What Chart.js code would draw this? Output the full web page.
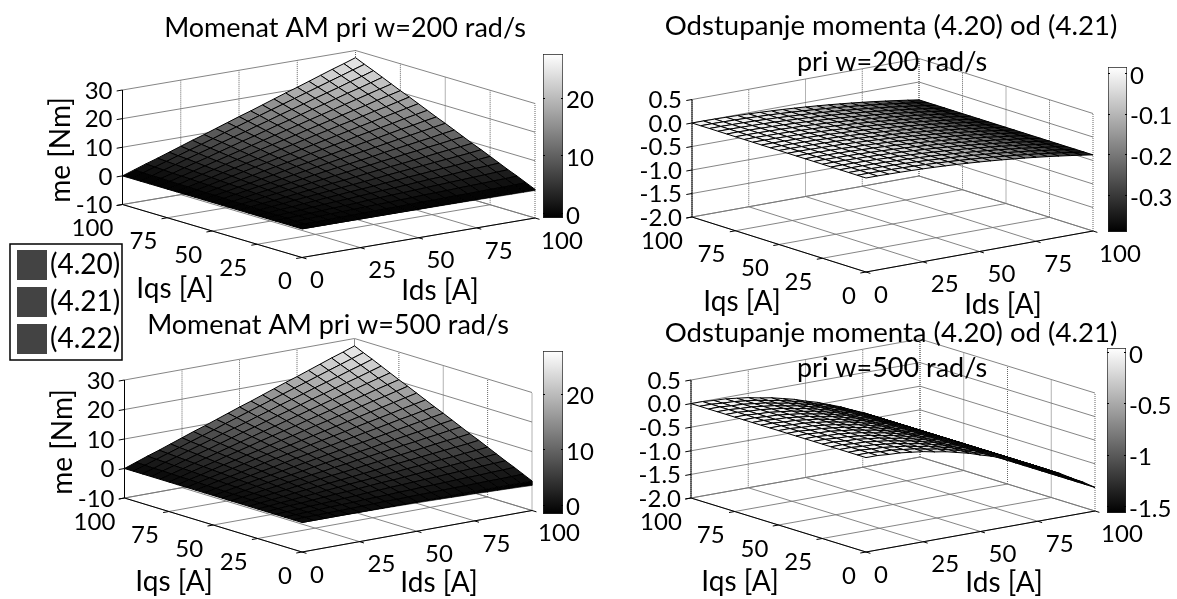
<!DOCTYPE html>
<html>
<head>
<meta charset="utf-8">
<script src="https://cdn.jsdelivr.net/npm/chart.js@4"></script>
<style>
  body { margin: 0; background: #fff; }
  #wrap { position: relative; width: 1177px; height: 599px; overflow: hidden; }
  canvas { position: absolute; }
</style>
</head>
<body>
<div id="wrap"><canvas id="main" width="1177" height="599" style="left:0;top:0"></canvas></div>
<script>
// mesh and tick values
const meshAxis = [0, 5, 10, 15, 20, 25, 30, 35, 40, 45, 50, 55, 60, 65, 70, 75, 80, 85, 90, 95, 100];
const currentTicks = [0, 25, 50, 75, 100];
const meTicks = [-10, 0, 10, 20, 30];
const devTicks = [-2, -1.5, -1, -0.5, 0, 0.5];
const devTickLabels = ['-2.0', '-1.5', '-1.0', '-0.5', '0.0', '0.5'];
const legendLabels = ['(4.20)', '(4.21)', '(4.22)'];

// torque, rows are Iqs, columns are Ids (both speeds read the same on top)
const meGrid = [
  [0,0,0,0,0,0,0,0,0,0,0,0,0,0,0,0,0,0,0,0,0],
  [0,.1,.1,.2,.3,.3,.4,.5,.6,.6,.7,.8,.8,.9,1,1,1.1,1.2,1.2,1.3,1.4],
  [0,.1,.3,.4,.6,.7,.8,1,1.1,1.2,1.4,1.5,1.7,1.8,1.9,2.1,2.2,2.3,2.5,2.6,2.8],
  [0,.2,.4,.6,.8,1,1.2,1.4,1.7,1.9,2.1,2.3,2.5,2.7,2.9,3.1,3.3,3.5,3.7,3.9,4.1],
  [0,.3,.6,.8,1.1,1.4,1.7,1.9,2.2,2.5,2.8,3,3.3,3.6,3.9,4.1,4.4,4.7,5,5.2,5.5],
  [0,.3,.7,1,1.4,1.7,2.1,2.4,2.8,3.1,3.4,3.8,4.1,4.5,4.8,5.2,5.5,5.8,6.2,6.5,6.9],
  [0,.4,.8,1.2,1.7,2.1,2.5,2.9,3.3,3.7,4.1,4.5,5,5.4,5.8,6.2,6.6,7,7.4,7.8,8.3],
  [0,.5,1,1.4,1.9,2.4,2.9,3.4,3.9,4.3,4.8,5.3,5.8,6.3,6.7,7.2,7.7,8.2,8.7,9.1,9.6],
  [0,.6,1.1,1.7,2.2,2.8,3.3,3.9,4.4,5,5.5,6.1,6.6,7.2,7.7,8.3,8.8,9.4,9.9,10.5,11],
  [0,.6,1.2,1.9,2.5,3.1,3.7,4.3,5,5.6,6.2,6.8,7.4,8,8.7,9.3,9.9,10.5,11.1,11.8,12.4],
  [0,.7,1.4,2.1,2.8,3.4,4.1,4.8,5.5,6.2,6.9,7.6,8.3,8.9,9.6,10.3,11,11.7,12.4,13.1,13.8],
  [0,.8,1.5,2.3,3,3.8,4.5,5.3,6.1,6.8,7.6,8.3,9.1,9.8,10.6,11.3,12.1,12.9,13.6,14.4,15.1],
  [0,.8,1.7,2.5,3.3,4.1,5,5.8,6.6,7.4,8.3,9.1,9.9,10.7,11.6,12.4,13.2,14,14.9,15.7,16.5],
  [0,.9,1.8,2.7,3.6,4.5,5.4,6.3,7.2,8,8.9,9.8,10.7,11.6,12.5,13.4,14.3,15.2,16.1,17,17.9],
  [0,1,1.9,2.9,3.9,4.8,5.8,6.7,7.7,8.7,9.6,10.6,11.6,12.5,13.5,14.4,15.4,16.4,17.3,18.3,19.3],
  [0,1,2.1,3.1,4.1,5.2,6.2,7.2,8.3,9.3,10.3,11.3,12.4,13.4,14.4,15.5,16.5,17.5,18.6,19.6,20.6],
  [0,1.1,2.2,3.3,4.4,5.5,6.6,7.7,8.8,9.9,11,12.1,13.2,14.3,15.4,16.5,17.6,18.7,19.8,20.9,22],
  [0,1.2,2.3,3.5,4.7,5.8,7,8.2,9.4,10.5,11.7,12.9,14,15.2,16.4,17.5,18.7,19.9,21,22.2,23.4],
  [0,1.2,2.5,3.7,5,6.2,7.4,8.7,9.9,11.1,12.4,13.6,14.9,16.1,17.3,18.6,19.8,21,22.3,23.5,24.8],
  [0,1.3,2.6,3.9,5.2,6.5,7.8,9.1,10.5,11.8,13.1,14.4,15.7,17,18.3,19.6,20.9,22.2,23.5,24.8,26.1],
  [0,1.4,2.8,4.1,5.5,6.9,8.3,9.6,11,12.4,13.8,15.1,16.5,17.9,19.3,20.6,22,23.4,24.8,26.1,27.5]
];

// deviation read along Ids, no visible change along Iqs
const dev200 = [0,0,-.004,-.009,-.015,-.024,-.034,-.047,-.061,-.077,-.095,-.115,-.137,-.161,-.186,-.214,-.243,-.275,-.308,-.343,-.38];
const dev500 = [0,0,-.02,-.03,-.06,-.09,-.14,-.18,-.24,-.3,-.38,-.45,-.54,-.63,-.74,-.84,-.96,-1.08,-1.22,-1.35,-1.5];

const meLimits200 = [-0.9, 27.6];
const meLimits500 = [-1.7, 27.7];
const devLimits200 = [-0.39, 0.0145];
const devLimits500 = [-1.568, 0.039];
const meBarTicks = [0, 10, 20];
const dev200BarTicks = [-0.3, -0.2, -0.1, 0];
const dev500BarTicks = [-1.5, -1, -0.5, 0];

const FONT = 'Lato';
const TITLE_SIZE = 27;
const LONG_TITLE_SIZE = 27.6;
const NAME_SIZE = 28;
const TICK_SIZE = 24;

// panel layouts
const panels = [
  { front: [302, 257.5], left: [122.5, 204.5], right: [535, 218], zSpan: 114.5,
    zTicks: meTicks, zLabels: meTicks.map(String), z: (i, j) => meGrid[j][i], edge: dev200, limits: meLimits200,
    lineWidth: 1, zName: ['me [Nm]', 61, 150],
    title: [['Momenat AM pri w=200 rad/s', 345, 28, TITLE_SIZE]], iqsName: [175, 289], idsName: [440, 291],
    bar: { x: 543, top: 54, w: 20, h: 164, ticks: meBarTicks } },
  { front: [866, 272], left: [692, 217], right: [1093, 231], zSpan: 117.5,
    zTicks: devTicks, zLabels: devTickLabels, z: (i, j) => dev200[i], limits: devLimits200,
    lineWidth: 1,
    title: [['Odstupanje momenta (4.20) od (4.21)', 891, 26, LONG_TITLE_SIZE], ['pri w=200 rad/s', 892, 62, TITLE_SIZE]], iqsName: [742, 302], idsName: [1003, 305],
    bar: { x: 1108, top: 67, w: 19, h: 165, ticks: dev200BarTicks } },
  { front: [302, 552], left: [124.5, 498], right: [532, 510.5], zSpan: 118,
    zTicks: meTicks, zLabels: meTicks.map(String), z: (i, j) => meGrid[j][i], edge: dev500, limits: meLimits500,
    lineWidth: 1, zName: ['me [Nm]', 63, 442],
    title: [['Momenat AM pri w=500 rad/s', 328, 325, TITLE_SIZE]], iqsName: [174, 582], idsName: [439, 583],
    bar: { x: 543, top: 351, w: 20, h: 163, ticks: meBarTicks } },
  { front: [866, 552], left: [691, 498], right: [1095, 511], zSpan: 118,
    zTicks: devTicks, zLabels: devTickLabels, z: (i, j) => dev500[i], limits: devLimits500,
    lineWidth: 1,
    title: [['Odstupanje momenta (4.20) od (4.21)', 891, 333, LONG_TITLE_SIZE], ['pri w=500 rad/s', 892, 368, TITLE_SIZE]], iqsName: [740, 582], idsName: [1004, 583],
    bar: { x: 1107, top: 348, w: 19, h: 165, ticks: dev500BarTicks } }
];

function project(p, ids, iqs, z) {
  const zs = p.zTicks;
  const zMin = zs[0], zMax = zs[zs.length - 1];
  const a = ids / 100, b = iqs / 100;
  return {
    x: p.front[0] + a * (p.right[0] - p.front[0]) + b * (p.left[0] - p.front[0]),
    y: p.front[1] + a * (p.right[1] - p.front[1]) + b * (p.left[1] - p.front[1]) - (z - zMin) / (zMax - zMin) * p.zSpan
  };
}

function lineSet(points, color, width, dash) {
  return { data: points, showLine: true, pointRadius: 0, borderColor: color, borderWidth: width,
    borderDash: dash || [], fill: false, tension: 0 };
}

function grayOf(z, limits) {
  let v = (z - limits[0]) / (limits[1] - limits[0]);
  v = Math.max(0, Math.min(1, v));
  const g = Math.round(Math.floor(v * 63) / 63 * 255);
  return 'rgb(' + g + ',' + g + ',' + g + ')';
}

function panelSets(p) {
  const out = [];
  const zMin = p.zTicks[0], zMax = p.zTicks[p.zTicks.length - 1];
  const wallLine = (a, b) => out.push(lineSet([a, b], '#777', 0.9));
  const upLine = (a, b) => out.push(lineSet([a, b], '#666', 1, [1, 1]));
  p.zTicks.forEach(z => {
    wallLine(project(p, 0, 100, z), project(p, 100, 100, z));
    wallLine(project(p, 100, 100, z), project(p, 100, 0, z));
  });
  currentTicks.forEach(d => {
    upLine(project(p, d, 100, zMin), project(p, d, 100, zMax));
    wallLine(project(p, d, 0, zMin), project(p, d, 100, zMin));
    upLine(project(p, 100, d, zMin), project(p, 100, d, zMax));
    wallLine(project(p, 0, d, zMin), project(p, 100, d, zMin));
  });
  // black axes with their tick marks
  const axisLine = (a, b) => out.push(lineSet([a, b], '#000', 1));
  axisLine(project(p, 0, 100, zMin), project(p, 0, 100, zMax));
  axisLine(project(p, 0, 100, zMin), project(p, 0, 0, zMin));
  axisLine(project(p, 0, 0, zMin), project(p, 100, 0, zMin));
  p.zTicks.forEach(z => axisLine(project(p, 0, 100, z), project(p, -2.5, 100, z)));
  currentTicks.forEach(d => {
    axisLine(project(p, d, 0, zMin), project(p, d, -2.5, zMin));
    axisLine(project(p, 0, d, zMin), project(p, -2.5, d, zMin));
  });
  const n = meshAxis.length - 1;
  // the lower surface only shows as a strip under the Iqs=0 edge
  if (p.edge) {
    for (let i = 0; i < n; i++) {
      const a = meshAxis[i], b = meshAxis[i + 1];
      const pts = [project(p, a, 0, 0), project(p, b, 0, 0), project(p, b, 0, p.edge[i + 1]), project(p, a, 0, p.edge[i]), project(p, a, 0, 0)];
      const set = lineSet(pts, '#000', 0.6);
      set.fill = 'shape';
      set.backgroundColor = grayOf(p.edge[i], p.limits);
      out.push(set);
    }
  }
  // facets, far corner first
  for (let s = 2 * n - 2; s >= 0; s--) {
    for (let j = 0; j < n; j++) {
      const i = s - j;
      if (i < 0 || i >= n) continue;
      const corners = [[i, j], [i + 1, j], [i + 1, j + 1], [i, j + 1], [i, j]];
      const pts = corners.map(c => project(p, meshAxis[c[0]], meshAxis[c[1]], p.z(c[0], c[1])));
      const set = lineSet(pts, '#000', p.lineWidth);
      set.fill = 'shape';
      set.backgroundColor = grayOf(p.z(i, j), p.limits);
      out.push(set);
    }
  }
  return out;
}

// text of the 3D axes, the titles and the legend box
const panelText = {
  id: 'panelText',
  afterDraw(chart) {
    const c = chart.ctx;
    const sx = v => chart.scales.x.getPixelForValue(v);
    const sy = v => chart.scales.y.getPixelForValue(v);
    const put = (text, x, y, size, align) => {
      c.font = size + 'px ' + FONT;
      c.textAlign = align || 'center';
      c.textBaseline = 'middle';
      c.fillStyle = '#000';
      c.fillText(text, sx(x), sy(y));
    };
    c.save();
    panels.forEach(p => {
      p.title.forEach(t => put(t[0], t[1], t[2], t[3]));
      const zMin = p.zTicks[0];
      p.zTicks.forEach((z, k) => {
        const q = project(p, 0, 100, z);
        put(p.zLabels[k], q.x - 10, q.y + 1, TICK_SIZE, 'right');
      });
      currentTicks.forEach(d => {
        const q = project(p, 0, d, zMin);
        const dx = d === 100 ? -30 : d === 0 ? -17 : -24;
        put(String(d), q.x + dx, q.y + 24, TICK_SIZE);
        const r = project(p, d, 0, zMin);
        const rx = d === 100 ? 27 : d === 0 ? 15 : 22;
        put(String(d), r.x + rx, r.y + 23, TICK_SIZE);
      });
      put('Iqs [A]', p.iqsName[0], p.iqsName[1], NAME_SIZE);
      put('Ids [A]', p.idsName[0], p.idsName[1], NAME_SIZE);
      if (p.zName) {
        c.save();
        c.translate(sx(p.zName[1]), sy(p.zName[2]));
        c.rotate(-Math.PI / 2);
        c.font = NAME_SIZE + 'px ' + FONT;
        c.textAlign = 'center';
        c.textBaseline = 'middle';
        c.fillStyle = '#000';
        c.fillText(p.zName[0], 0, 0);
        c.restore();
      }
    });
    // legend
    c.fillStyle = '#fff';
    c.strokeStyle = '#000';
    c.lineWidth = 1.5;
    c.fillRect(10, 244, 112, 116);
    c.strokeRect(10, 244, 112, 116);
    legendLabels.forEach((t, k) => {
      c.fillStyle = '#434343';
      c.fillRect(17, 250 + k * 37, 30, 30);
      put(t, 50, 265 + k * 37, NAME_SIZE, 'left');
    });
    c.restore();
  }
};

let allSets = [];
panels.forEach(p => { allSets = allSets.concat(panelSets(p)); });

new Chart(document.getElementById('main').getContext('2d'), {
  type: 'scatter',
  data: { datasets: allSets.reverse() },
  options: {
    responsive: false,
    animation: false,
    events: [],
    layout: { padding: 0 },
    plugins: { legend: { display: false }, tooltip: { enabled: false } },
    scales: {
      x: { type: 'linear', min: 0, max: 1177, display: false },
      y: { type: 'linear', min: 0, max: 599, reverse: true, display: false }
    }
  },
  plugins: [panelText]
});

// short ticks on the inner side of the colour bar edges
const barTicks = {
  id: 'barTicks',
  afterDatasetsDraw(chart) {
    const c = chart.ctx, a = chart.chartArea, y = chart.scales.y;
    c.save();
    c.strokeStyle = '#000';
    c.lineWidth = 1;
    y.ticks.forEach(t => {
      const py = Math.round(y.getPixelForValue(t.value)) + 0.5;
      c.beginPath();
      c.moveTo(a.left, py); c.lineTo(a.left + 2, py);
      c.moveTo(a.right - 2, py); c.lineTo(a.right, py);
      c.stroke();
    });
    c.restore();
  }
};

// colour bars are small bar charts with a real right axis
function addColorBar(p) {
  const b = p.bar;
  const pad = 16, axisW = 62;
  const cv = document.createElement('canvas');
  cv.width = b.w + axisW + 1;
  cv.height = b.h + pad * 2;
  cv.style.left = (b.x - 1) + 'px';
  cv.style.top = (b.top - pad) + 'px';
  document.getElementById('wrap').appendChild(cv);
  new Chart(cv.getContext('2d'), {
    type: 'bar',
    data: {
      labels: [''],
      datasets: [{
        data: [p.limits],
        barPercentage: 1,
        categoryPercentage: 1,
        borderColor: '#222',
        borderWidth: 1,
        borderSkipped: false,
        backgroundColor: ctx => {
          const a = ctx.chart.chartArea;
          if (!a) return '#000';
          const g = ctx.chart.ctx.createLinearGradient(0, a.bottom, 0, a.top);
          g.addColorStop(0, '#000');
          g.addColorStop(1, '#fff');
          return g;
        }
      }]
    },
    options: {
      responsive: false,
      animation: false,
      events: [],
      layout: { padding: { top: pad, bottom: pad, left: 1, right: 0 } },
      plugins: { legend: { display: false }, tooltip: { enabled: false } },
      scales: {
        x: { display: false },
        y: {
          position: 'right',
          min: p.limits[0],
          max: p.limits[1],
          afterBuildTicks: s => { s.ticks = b.ticks.map(v => ({ value: v })); },
          afterFit: s => { s.width = axisW; s.paddingTop = 0; s.paddingBottom = 0; },
          border: { display: false },
          grid: { drawOnChartArea: false, drawTicks: false },
          ticks: { color: '#000', padding: 3, labelOffset: 3, font: { family: FONT, size: TICK_SIZE }, callback: v => String(v) }
        }
      }
    },
    plugins: [barTicks]
  });
}
panels.forEach(addColorBar);
</script>
</body>
</html>
